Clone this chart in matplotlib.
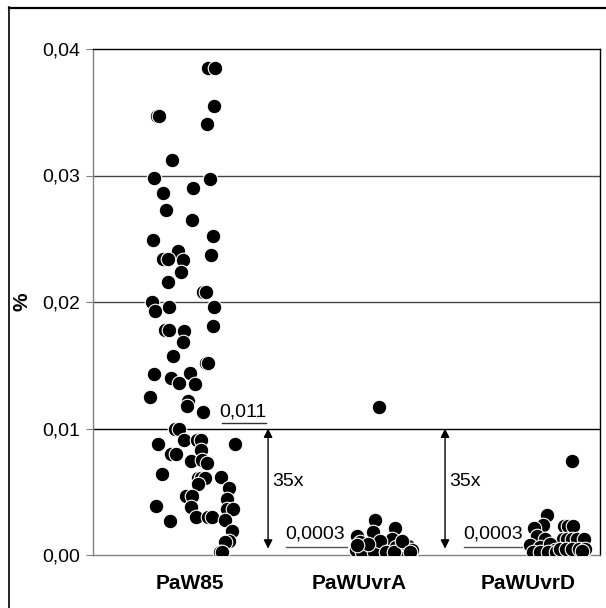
import matplotlib
matplotlib.use("Agg")
import matplotlib.pyplot as plt
from matplotlib.lines import Line2D

plt.rcParams['font.family'] = ['Liberation Sans', 'DejaVu Sans']

categories = ["PaW85", "PaWUvrA", "PaWUvrD"]
y_ticks = [0.00, 0.01, 0.02, 0.03, 0.04]
y_tick_labels = ["0,00", "0,01", "0,02", "0,03", "0,04"]

# PaW85 values (%), with horizontal jitter offsets (category units)
paw85_values = [0.0385, 0.0385, 0.0355, 0.0347, 0.0347, 0.0341, 0.0312, 0.0298, 0.0297, 0.0290,
                0.0286, 0.0273, 0.0265, 0.0249, 0.0252, 0.0240, 0.0234, 0.0234, 0.0233, 0.0237,
                0.0224, 0.0216, 0.0208, 0.0208, 0.0200, 0.0193, 0.0196, 0.0196, 0.0181, 0.0178,
                0.0178, 0.0177, 0.0168, 0.0157, 0.0152, 0.0152, 0.0143, 0.0144, 0.0140, 0.0136,
                0.0135, 0.0125, 0.0122, 0.0118, 0.0113, 0.0100, 0.0100, 0.0088, 0.0091, 0.0091,
                0.0091, 0.0088, 0.0080, 0.0080, 0.0083, 0.0074, 0.0075, 0.0073, 0.0064, 0.0061,
                0.0061, 0.0061, 0.0056, 0.0062, 0.0053, 0.0047, 0.0047, 0.0044, 0.0038, 0.0039,
                0.0036, 0.0036, 0.0027, 0.0030, 0.0030, 0.0030, 0.0028, 0.0019, 0.0011, 0.0010,
                0.0002, 0.0002]
paw85_jitter = [0.107, 0.148, 0.142, -0.195, -0.183, 0.101, -0.107, -0.213, 0.118, 0.018,
                -0.160, -0.142, 0.012, -0.219, 0.136, -0.071, -0.160, -0.130, -0.041, 0.124,
                -0.053, -0.130, 0.077, 0.095, -0.225, -0.207, -0.124, 0.142, 0.136, -0.148,
                -0.124, -0.036, -0.041, -0.101, 0.095, 0.107, -0.213, 0.000, -0.112, -0.065,
                0.030, -0.237, -0.012, -0.018, 0.077, -0.089, -0.065, -0.189, -0.036, 0.041,
                0.065, 0.266, -0.112, -0.083, 0.065, 0.006, 0.071, 0.101, -0.166, 0.047,
                0.065, 0.089, 0.047, 0.183, 0.231, -0.024, 0.012, 0.219, 0.006, -0.201,
                0.219, 0.254, -0.118, 0.036, 0.107, 0.130, 0.207, 0.249, 0.231, 0.207,
                0.178, 0.189]

paw_uvra_values = [0.0117, 0.0028, 0.0018, 0.0015, 0.0021, 0.0010, 0.0006, 0.0003, 0.0008, 0.0004,
                   0.0010, 0.0013, 0.0006, 0.0003, 0.0009, 0.0007, 0.0004, 0.0004, 0.0002, 0.0002,
                   0.0011, 0.0002, 0.0002, 0.0011, 0.0002, 0.0009, 0.0008]
paw_uvra_jitter = [0.118, 0.095, 0.083, -0.012, 0.213, 0.006, 0.036, 0.065, 0.112, 0.142,
                   0.172, 0.195, 0.219, 0.243, 0.266, 0.290, 0.314, -0.018, 0.018, 0.089,
                   0.124, 0.160, 0.207, 0.254, 0.302, 0.053, -0.012]

paw_uvrd_values = [0.0074, 0.0032, 0.0024, 0.0021, 0.0023, 0.0023, 0.0023, 0.0015, 0.0013, 0.0013,
                   0.0013, 0.0013, 0.0013, 0.0013, 0.0008, 0.0006, 0.0009, 0.0004, 0.0002, 0.0002,
                   0.0002, 0.0002, 0.0002, 0.0002, 0.0002, 0.0002, 0.0005, 0.0005, 0.0005, 0.0005,
                   0.0005, 0.0003]
paw_uvrd_jitter = [0.260, 0.112, 0.089, 0.036, 0.213, 0.237, 0.266, 0.053, 0.101, 0.207,
                   0.231, 0.260, 0.290, 0.331, 0.012, 0.071, 0.130, 0.160, 0.030, 0.071,
                   0.118, 0.166, 0.207, 0.249, 0.284, 0.325, 0.189, 0.225, 0.260, 0.302,
                   0.337, 0.320]

W, H = 606, 608
fig = plt.figure(figsize=(W / 100, H / 100), dpi=100)
ax = fig.add_axes([93 / W, 1 - 555 / H, (600 - 93) / W, (555 - 49) / H])

groups = [(paw85_values, paw85_jitter), (paw_uvra_values, paw_uvra_jitter),
          (paw_uvrd_values, paw_uvrd_jitter)]
for i, (vals, jit) in enumerate(groups):
    xs = [i + 1 + j for j in jit]
    ax.scatter(xs, vals, s=110, c='black', edgecolors='white', linewidths=0.8, zorder=3)

ax.set_xlim(0.426, 3.426)
ax.set_ylim(0, 0.04)
ax.set_yticks(y_ticks)
ax.set_yticklabels(y_tick_labels, fontsize=14)
ax.set_xticks([1, 2, 3])
ax.set_xticklabels(categories, fontsize=15, fontweight='bold')
ax.tick_params(axis='x', length=0, pad=14)
ax.tick_params(axis='y', length=5, color='#808080', pad=4)
for yv in [0.01, 0.02, 0.03]:
    ax.axhline(yv, color='black' if yv == 0.01 else '#444444', lw=1.0, zorder=1)
ax.spines['left'].set_color('#808080')
ax.spines['bottom'].set_color('#808080')
ax.spines['top'].set_color('black')
ax.spines['right'].set_color('black')
for sp in ax.spines.values():
    sp.set_linewidth(1.0)
ax.set_ylabel('%', fontsize=15, fontweight='bold')
ax.yaxis.set_label_coords(-0.122, 0.5)

# annotations
ax.text(1.172, 0.0113, '0,011', fontsize=14, va='center', ha='left')
ax.plot([1.19, 1.45], [0.0104, 0.0104], color='#333333', lw=1.0, zorder=2)
for xa, xt, xl0, xl1, xtx in [(1.462, 1.488, 1.570, 1.928, 1.565), (2.509, 2.532, 2.620, 2.962, 2.615)]:
    ax.annotate('', xy=(xa, 0.0100), xytext=(xa, 0.0005),
                arrowprops=dict(arrowstyle='<|-|>', color='black', lw=1.0,
                                mutation_scale=13, shrinkA=0, shrinkB=0))
    ax.text(xt, 0.0058, '35x', fontsize=14, va='center', ha='left')
    ax.text(xtx, 0.00165, '0,0003', fontsize=14, va='center', ha='left')
    ax.plot([xl0, xl1], [0.00062, 0.00062], color='#555555', lw=1.0, zorder=2)

# outer frame (left and top visible)
fig.add_artist(Line2D([8.5 / W, 8.5 / W], [0, 1 - 7 / H], color='black', lw=1.2))
fig.add_artist(Line2D([8.5 / W, 1], [1 - 7.5 / H, 1 - 7.5 / H], color='black', lw=1.6))

fig.savefig('out.png', dpi=100)
